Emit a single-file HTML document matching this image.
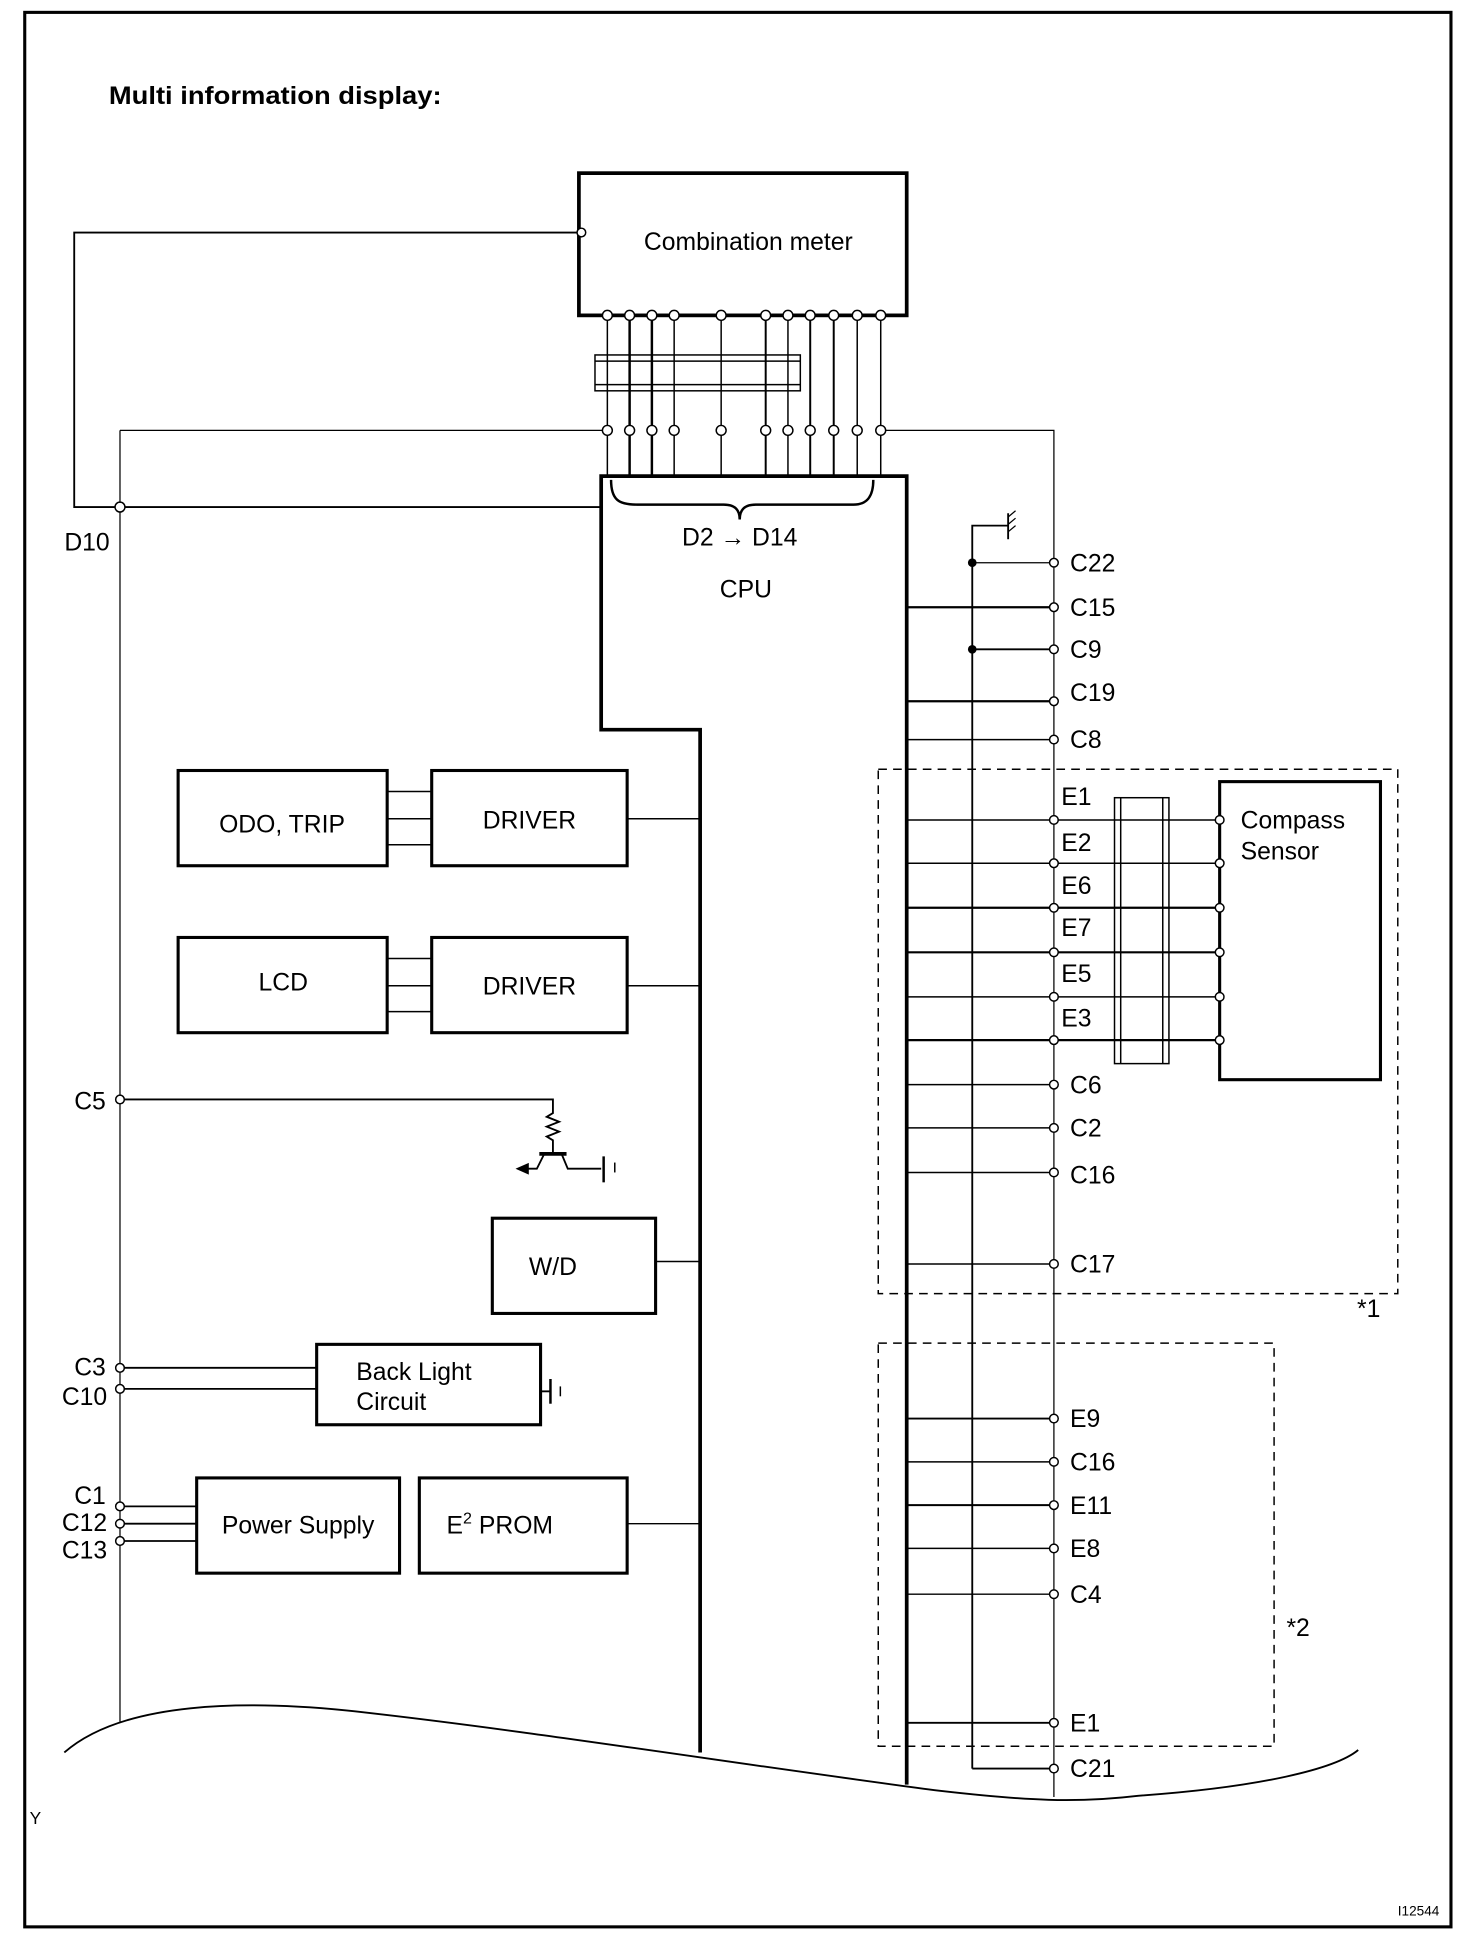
<!DOCTYPE html>
<html><head><meta charset="utf-8"><style>
html,body{margin:0;padding:0;background:#fff;}
svg{display:block;}
text{font-family:"Liberation Sans",Arial,sans-serif;fill:#000;}
</style></head><body>
<svg width="1472" height="1938" viewBox="0 0 1190 1567" preserveAspectRatio="none" xmlns="http://www.w3.org/2000/svg">
<rect x="0" y="0" width="1190" height="1567" fill="#fff"/>
<g stroke="#000" fill="none">
<rect x="20" y="10" width="1153" height="1548" stroke-width="2.5"/>
<rect x="468" y="140" width="265" height="115" stroke-width="3"/>
<polyline points="468,188 60,188 60,410 486,410" stroke-width="1.5"/>
<line x1="97" y1="348" x2="490" y2="348" stroke-width="1"/>
<polyline points="712,348 852,348 852,1453" stroke-width="1"/>
<line x1="97" y1="348" x2="97" y2="1392" stroke-width="1"/>
<rect x="481" y="287" width="166" height="29" stroke-width="1.2"/>
<line x1="481" y1="292" x2="647" y2="292" stroke-width="1.2"/>
<line x1="481" y1="311" x2="647" y2="311" stroke-width="1.2"/>
<g stroke-width="1.2">
<line x1="491" y1="255" x2="491" y2="385"/>
<line x1="509" y1="255" x2="509" y2="385" stroke-width="2"/>
<line x1="527" y1="255" x2="527" y2="385" stroke-width="2"/>
<line x1="545" y1="255" x2="545" y2="385"/>
<line x1="583" y1="255" x2="583" y2="385"/>
<line x1="619" y1="255" x2="619" y2="385" stroke-width="1.6"/>
<line x1="637" y1="255" x2="637" y2="385"/>
<line x1="655" y1="255" x2="655" y2="385" stroke-width="1.6"/>
<line x1="674" y1="255" x2="674" y2="385" stroke-width="1.6"/>
<line x1="693" y1="255" x2="693" y2="385"/>
<line x1="712" y1="255" x2="712" y2="385"/>
</g>
<polyline points="566,1417 566,590 486,590 486,385 733,385 733,1443" stroke-width="3"/>
<path d="M494,388 C494,404 500,408 515,408 L585,408 C594,408 598,412 598,420 C598,412 602,408 611,408 L690,408 C702,408 706,400 706,388" stroke-width="2"/>
<polyline points="786,1430 786,425 815,425" stroke-width="1.5"/>
<line x1="815" y1="415" x2="815" y2="436" stroke-width="1.5"/>
<line x1="815" y1="418" x2="821" y2="413" stroke-width="1"/>
<line x1="815" y1="424" x2="821" y2="419" stroke-width="1"/>
<line x1="815" y1="430" x2="821" y2="425" stroke-width="1"/>
<line x1="786" y1="455" x2="852" y2="455" stroke-width="1"/>
<line x1="786" y1="525" x2="852" y2="525" stroke-width="1.5"/>
<line x1="786" y1="1430" x2="852" y2="1430" stroke-width="1.5"/>
<g stroke-width="1.2">
<line x1="733" y1="491" x2="852" y2="491" stroke-width="1.8"/>
<line x1="733" y1="567" x2="852" y2="567" stroke-width="1.8"/>
<line x1="733" y1="598" x2="852" y2="598"/>
<line x1="733" y1="663" x2="986" y2="663"/>
<line x1="733" y1="698" x2="986" y2="698"/>
<line x1="733" y1="734" x2="986" y2="734" stroke-width="1.8"/>
<line x1="733" y1="770" x2="986" y2="770" stroke-width="1.8"/>
<line x1="733" y1="806" x2="986" y2="806"/>
<line x1="733" y1="841" x2="986" y2="841" stroke-width="1.8"/>
<line x1="733" y1="877" x2="852" y2="877"/>
<line x1="733" y1="912" x2="852" y2="912"/>
<line x1="733" y1="948" x2="852" y2="948"/>
<line x1="733" y1="1022" x2="852" y2="1022"/>
<line x1="733" y1="1147" x2="852" y2="1147" stroke-width="1.6"/>
<line x1="733" y1="1182" x2="852" y2="1182"/>
<line x1="733" y1="1217" x2="852" y2="1217" stroke-width="1.6"/>
<line x1="733" y1="1252" x2="852" y2="1252"/>
<line x1="733" y1="1289" x2="852" y2="1289"/>
<line x1="733" y1="1393" x2="852" y2="1393" stroke-width="1.6"/>
</g>
<rect x="986" y="632" width="130" height="241" stroke-width="2.5"/>
<rect x="901" y="645" width="44" height="215" stroke-width="1.2"/>
<line x1="906" y1="645" x2="906" y2="860" stroke-width="1.2"/>
<line x1="940" y1="645" x2="940" y2="860" stroke-width="1.2"/>
<rect x="710" y="622" width="420" height="424" stroke-width="1.2" stroke-dasharray="7,5"/>
<rect x="710" y="1086" width="320" height="326" stroke-width="1.2" stroke-dasharray="7,5"/>
<rect x="144" y="623" width="169" height="77" stroke-width="2.5"/>
<rect x="349" y="623" width="158" height="77" stroke-width="2.5"/>
<line x1="313" y1="640" x2="349" y2="640" stroke-width="1.2"/>
<line x1="313" y1="662" x2="349" y2="662" stroke-width="1.2"/>
<line x1="313" y1="683" x2="349" y2="683" stroke-width="1.2"/>
<line x1="507" y1="662" x2="566" y2="662" stroke-width="1.2"/>
<rect x="144" y="758" width="169" height="77" stroke-width="2.5"/>
<rect x="349" y="758" width="158" height="77" stroke-width="2.5"/>
<line x1="313" y1="775" x2="349" y2="775" stroke-width="1.2"/>
<line x1="313" y1="797" x2="349" y2="797" stroke-width="1.2"/>
<line x1="313" y1="818" x2="349" y2="818" stroke-width="1.2"/>
<line x1="507" y1="797" x2="566" y2="797" stroke-width="1.2"/>
<polyline points="97,889 447,889 447,900 442,903 452,907 442,911 452,915 442,919 447,922 447,933" stroke-width="1.5"/>
<line x1="436" y1="933" x2="458" y2="933" stroke-width="3"/>
<polyline points="440,933 434,945 420,945" stroke-width="1.5"/>
<polygon points="418,945 427,941 427,949" fill="#000"/>
<polyline points="454,933 459,945 486,945" stroke-width="1.5"/>
<line x1="488" y1="935" x2="488" y2="956" stroke-width="2"/>
<line x1="497" y1="940" x2="497" y2="948" stroke-width="1.2"/>
<rect x="398" y="985" width="132" height="77" stroke-width="2.5"/>
<line x1="530" y1="1020" x2="566" y2="1020" stroke-width="1.2"/>
<rect x="256" y="1087" width="181" height="65" stroke-width="2.5"/>
<line x1="97" y1="1106" x2="256" y2="1106" stroke-width="1.5"/>
<line x1="97" y1="1123" x2="256" y2="1123" stroke-width="1.5"/>
<line x1="437" y1="1125" x2="445" y2="1125" stroke-width="1.5"/>
<line x1="445" y1="1115" x2="445" y2="1135" stroke-width="2"/>
<line x1="453" y1="1121" x2="453" y2="1129" stroke-width="1.2"/>
<rect x="159" y="1195" width="164" height="77" stroke-width="2.5"/>
<rect x="339" y="1195" width="168" height="77" stroke-width="2.5"/>
<line x1="97" y1="1218" x2="159" y2="1218" stroke-width="1.5"/>
<line x1="97" y1="1232" x2="159" y2="1232" stroke-width="1.5"/>
<line x1="97" y1="1246" x2="159" y2="1246" stroke-width="1.5"/>
<line x1="507" y1="1232" x2="566" y2="1232" stroke-width="1.2"/>
<path d="M52,1417 C100,1375 200,1375 280,1383 C420,1398 620,1430 760,1448 C830,1456 870,1458 920,1452 C1020,1445 1080,1430 1098,1415" stroke-width="1.5"/>
</g>
<g stroke="#000" stroke-width="1.2" fill="#fff">
<circle cx="470" cy="188" r="3.5"/>
<circle cx="97" cy="410" r="4"/>
<circle cx="491" cy="255" r="4"/><circle cx="509" cy="255" r="4"/><circle cx="527" cy="255" r="4"/><circle cx="545" cy="255" r="4"/><circle cx="583" cy="255" r="4"/><circle cx="619" cy="255" r="4"/><circle cx="637" cy="255" r="4"/><circle cx="655" cy="255" r="4"/><circle cx="674" cy="255" r="4"/><circle cx="693" cy="255" r="4"/><circle cx="712" cy="255" r="4"/>
<circle cx="491" cy="348" r="4"/><circle cx="509" cy="348" r="4"/><circle cx="527" cy="348" r="4"/><circle cx="545" cy="348" r="4"/><circle cx="583" cy="348" r="4"/><circle cx="619" cy="348" r="4"/><circle cx="637" cy="348" r="4"/><circle cx="655" cy="348" r="4"/><circle cx="674" cy="348" r="4"/><circle cx="693" cy="348" r="4"/><circle cx="712" cy="348" r="4"/>
<circle cx="852" cy="455" r="3.5"/><circle cx="852" cy="491" r="3.5"/><circle cx="852" cy="525" r="3.5"/><circle cx="852" cy="567" r="3.5"/><circle cx="852" cy="598" r="3.5"/>
<circle cx="852" cy="663" r="3.5"/><circle cx="852" cy="698" r="3.5"/><circle cx="852" cy="734" r="3.5"/><circle cx="852" cy="770" r="3.5"/><circle cx="852" cy="806" r="3.5"/><circle cx="852" cy="841" r="3.5"/>
<circle cx="852" cy="877" r="3.5"/><circle cx="852" cy="912" r="3.5"/><circle cx="852" cy="948" r="3.5"/><circle cx="852" cy="1022" r="3.5"/>
<circle cx="852" cy="1147" r="3.5"/><circle cx="852" cy="1182" r="3.5"/><circle cx="852" cy="1217" r="3.5"/><circle cx="852" cy="1252" r="3.5"/><circle cx="852" cy="1289" r="3.5"/><circle cx="852" cy="1393" r="3.5"/><circle cx="852" cy="1430" r="3.5"/>
<circle cx="986" cy="663" r="3.5"/><circle cx="986" cy="698" r="3.5"/><circle cx="986" cy="734" r="3.5"/><circle cx="986" cy="770" r="3.5"/><circle cx="986" cy="806" r="3.5"/><circle cx="986" cy="841" r="3.5"/>
<circle cx="97" cy="889" r="3.5"/><circle cx="97" cy="1106" r="3.5"/><circle cx="97" cy="1123" r="3.5"/>
<circle cx="97" cy="1218" r="3.5"/><circle cx="97" cy="1232" r="3.5"/><circle cx="97" cy="1246" r="3.5"/>
</g>
<circle cx="786" cy="455" r="3.5" fill="#000"/>
<circle cx="786" cy="525" r="3.5" fill="#000"/>
<text x="88" y="84" font-size="20" font-weight="bold" textLength="269" lengthAdjust="spacingAndGlyphs">Multi information display:</text>
<text x="605" y="202" font-size="20" text-anchor="middle">Combination meter</text>
<text x="598" y="441" font-size="20" text-anchor="middle">D2 → D14</text>
<text x="603" y="483" font-size="20" text-anchor="middle">CPU</text>
<text x="52" y="445" font-size="20">D10</text>
<g font-size="20">
<text x="865" y="462">C22</text><text x="865" y="498">C15</text><text x="865" y="532">C9</text><text x="865" y="567">C19</text><text x="865" y="605">C8</text>
<text x="858" y="651">E1</text><text x="858" y="688">E2</text><text x="858" y="723">E6</text><text x="858" y="757">E7</text><text x="858" y="794">E5</text><text x="858" y="830">E3</text>
<text x="865" y="884">C6</text><text x="865" y="919">C2</text><text x="865" y="957">C16</text><text x="865" y="1029">C17</text>
<text x="865" y="1154">E9</text><text x="865" y="1189">C16</text><text x="865" y="1224">E11</text><text x="865" y="1259">E8</text><text x="865" y="1296">C4</text><text x="865" y="1400">E1</text><text x="865" y="1437">C21</text>
<text x="1003" y="670">Compass</text><text x="1003" y="695">Sensor</text>
<text x="1097" y="1065">*1</text><text x="1040" y="1323">*2</text>
<text x="228" y="673" text-anchor="middle">ODO, TRIP</text>
<text x="428" y="670" text-anchor="middle">DRIVER</text>
<text x="229" y="801" text-anchor="middle">LCD</text>
<text x="428" y="804" text-anchor="middle">DRIVER</text>
<text x="60" y="897">C5</text>
<text x="447" y="1031" text-anchor="middle">W/D</text>
<text x="288" y="1116">Back Light</text><text x="288" y="1140">Circuit</text>
<text x="60" y="1112">C3</text><text x="50" y="1136">C10</text>
<text x="60" y="1216">C1</text><text x="50" y="1238">C12</text><text x="50" y="1260">C13</text>
<text x="241" y="1240" text-anchor="middle">Power Supply</text>
<text x="361" y="1240">E<tspan font-size="13" dy="-8">2</tspan><tspan dy="8"> PROM</tspan></text>
</g>
<text x="24" y="1475" font-size="14">Y</text>
<text x="1130" y="1549" font-size="11">I12544</text>
</svg>
</body></html>
